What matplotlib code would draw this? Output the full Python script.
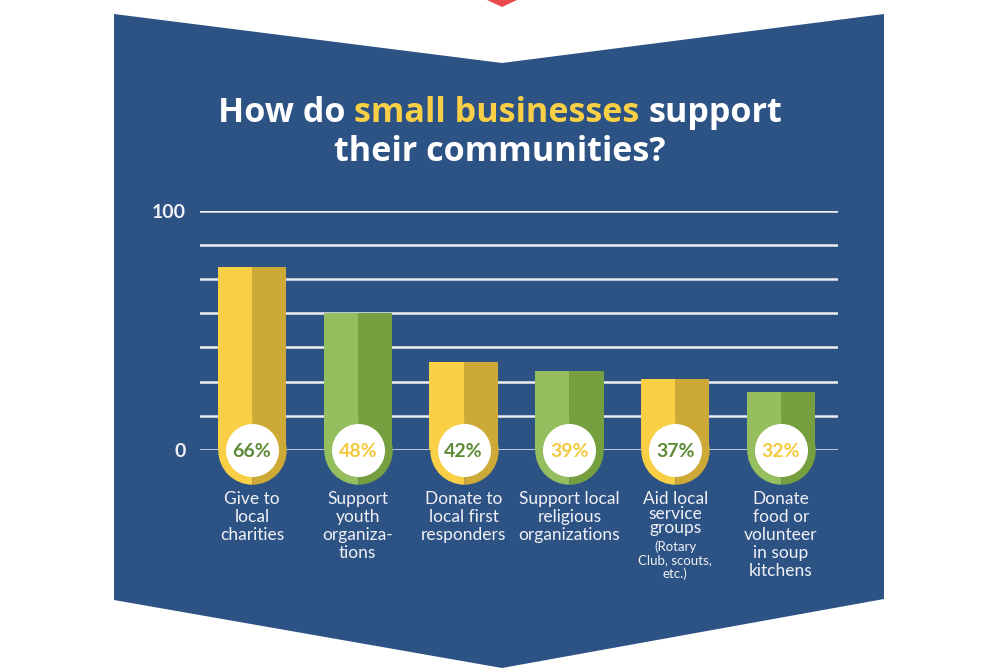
import matplotlib
matplotlib.use("Agg")
import matplotlib.pyplot as plt
from matplotlib.patches import Polygon
import numpy as np

# data
categories = [
    "Give to\nlocal\ncharities",
    "Support\nyouth\norganiza-\ntions",
    "Donate to\nlocal first\nresponders",
    "Support local\nreligious\norganizations",
    "Aid local\nservice\ngroups",
    "Donate\nfood or\nvolunteer\nin soup\nkitchens",
]
notes = ["", "", "", "", "(Rotary\nClub, scouts,\netc.)", ""]
percents = [66, 48, 42, 39, 37, 32]
# bar heights as drawn on the 0-100 scale
heights = [76.6, 57.1, 36.9, 33.1, 29.5, 24.1]
yticks = [0, 100]

BLUE = "#2D5284"
YEL_L, YEL_D = "#F9D045", "#CDA938"
GRN_L, GRN_D = "#95BE5F", "#76A040"
TXT = "#F0F1F6"
FONT = ["Lato", "DejaVu Sans"]
TFONT = ["Open Sans", "DejaVu Sans"]
plt.rcParams["font.family"] = FONT

fig = plt.figure(figsize=(10, 6.72), dpi=100)
fig.patch.set_facecolor("white")

# background in pixel coords
bg = fig.add_axes([0, 0, 1, 1])
bg.set_xlim(0, 1000)
bg.set_ylim(672, 0)
bg.axis("off")
bg.add_patch(Polygon([(114, 14), (502, 63), (884, 14), (884, 599),
                      (502, 668), (114, 600)], closed=True,
                     facecolor=BLUE, edgecolor="none"))
bg.add_patch(Polygon([(487, 0), (517, 0), (502, 7)], closed=True,
                     facecolor="#E94B4B", edgecolor="none"))

# title with highlighted words, fitted to ~565px width
renderer = fig.canvas.get_renderer()
pieces = [("How do", "white"), ("small businesses", "#F9D045"), ("support", "white")]


def line_width(size):
    p1 = bg.text(0, 0, "x x", fontsize=size, fontweight="bold", family=TFONT)
    p2 = bg.text(0, 0, "xx", fontsize=size, fontweight="bold", family=TFONT)
    sp = p1.get_window_extent(renderer).width - p2.get_window_extent(renderer).width
    p1.remove()
    p2.remove()
    ts = [bg.text(0, 113, s, color=c, fontsize=size, fontweight="bold",
                  family=TFONT, va="center", ha="left") for s, c in pieces]
    ws = [t.get_window_extent(renderer).width for t in ts]
    return ts, ws, sp


tsize = 24
texts, widths, space = line_width(tsize)
total = sum(widths) + space * (len(widths) - 1)
for t in texts:
    t.remove()
tsize = tsize * 565 / total
texts, widths, space = line_width(tsize)
total = sum(widths) + space * (len(widths) - 1)
x = 500 - total / 2
for t, w in zip(texts, widths):
    t.set_x(x)
    x += w + space
bg.text(500, 152, "their communities?", color="white", fontsize=tsize,
        fontweight="bold", family=TFONT, ha="center", va="center")

# chart axes: 0 line at y=450px, 100 line at y=210.7px, grid from x=200 to 838
ax = fig.add_axes([0.2, (672 - 450) / 672, 0.638, 239.3 / 672])
ax.set_facecolor("none")
ax.set_xlim(-0.4915, 5.539)
ax.set_ylim(0, 100)
for s in ax.spines.values():
    s.set_visible(False)
for g in np.linspace(0, 100, 8):
    ax.axhline(g, color="#EEEFF4", lw=1.8, zorder=1)
ax.set_yticks(yticks)
ax.set_yticklabels([str(v) for v in yticks], color=TXT, fontsize=14,
                   fontweight="bold")
ax.tick_params(axis="y", length=0, pad=10)
ax.set_xticks([])

xs = np.arange(len(categories))
w = 0.647
bar_px = w * 105.8
for i, (h, p) in enumerate(zip(heights, percents)):
    light, dark = (YEL_L, YEL_D) if i % 2 == 0 else (GRN_L, GRN_D)
    tcol = "#5E8B37" if i % 2 == 0 else "#F5C93E"
    ax.bar(xs[i] - w / 4, h, width=w / 2, color=light, zorder=2)
    ax.bar(xs[i] + w / 4, h, width=w / 2, color=dark, zorder=2)
    ax.plot(xs[i], 0, marker="o", ms=bar_px * 0.72, fillstyle="left",
            markerfacecolor=light, markerfacecoloralt=dark, mew=0,
            clip_on=False, zorder=3)
    ax.plot(xs[i], 0, marker="o", ms=53 * 0.72, color="white", mew=0,
            clip_on=False, zorder=4)
    ax.text(xs[i], -0.5, f"{p}%", color=tcol, fontsize=14, fontweight="bold",
            ha="center", va="center", zorder=5)

    spacing = 1.15 if notes[i] == "" else 0.9
    ax.annotate(categories[i], xy=(xs[i], 0), xytext=(0, -41),
                textcoords="offset pixels", ha="center", va="top",
                color=TXT, fontsize=12.5, linespacing=spacing,
                annotation_clip=False)
    if notes[i]:
        n_lines = categories[i].count("\n") + 1
        ax.annotate(notes[i], xy=(xs[i], 0),
                    xytext=(0, -41 - n_lines * 15.7 - 2),
                    textcoords="offset pixels", ha="center", va="top",
                    color=TXT, fontsize=9.5, linespacing=1.15,
                    annotation_clip=False)

fig.savefig("out.png", dpi=100, facecolor=fig.get_facecolor())
